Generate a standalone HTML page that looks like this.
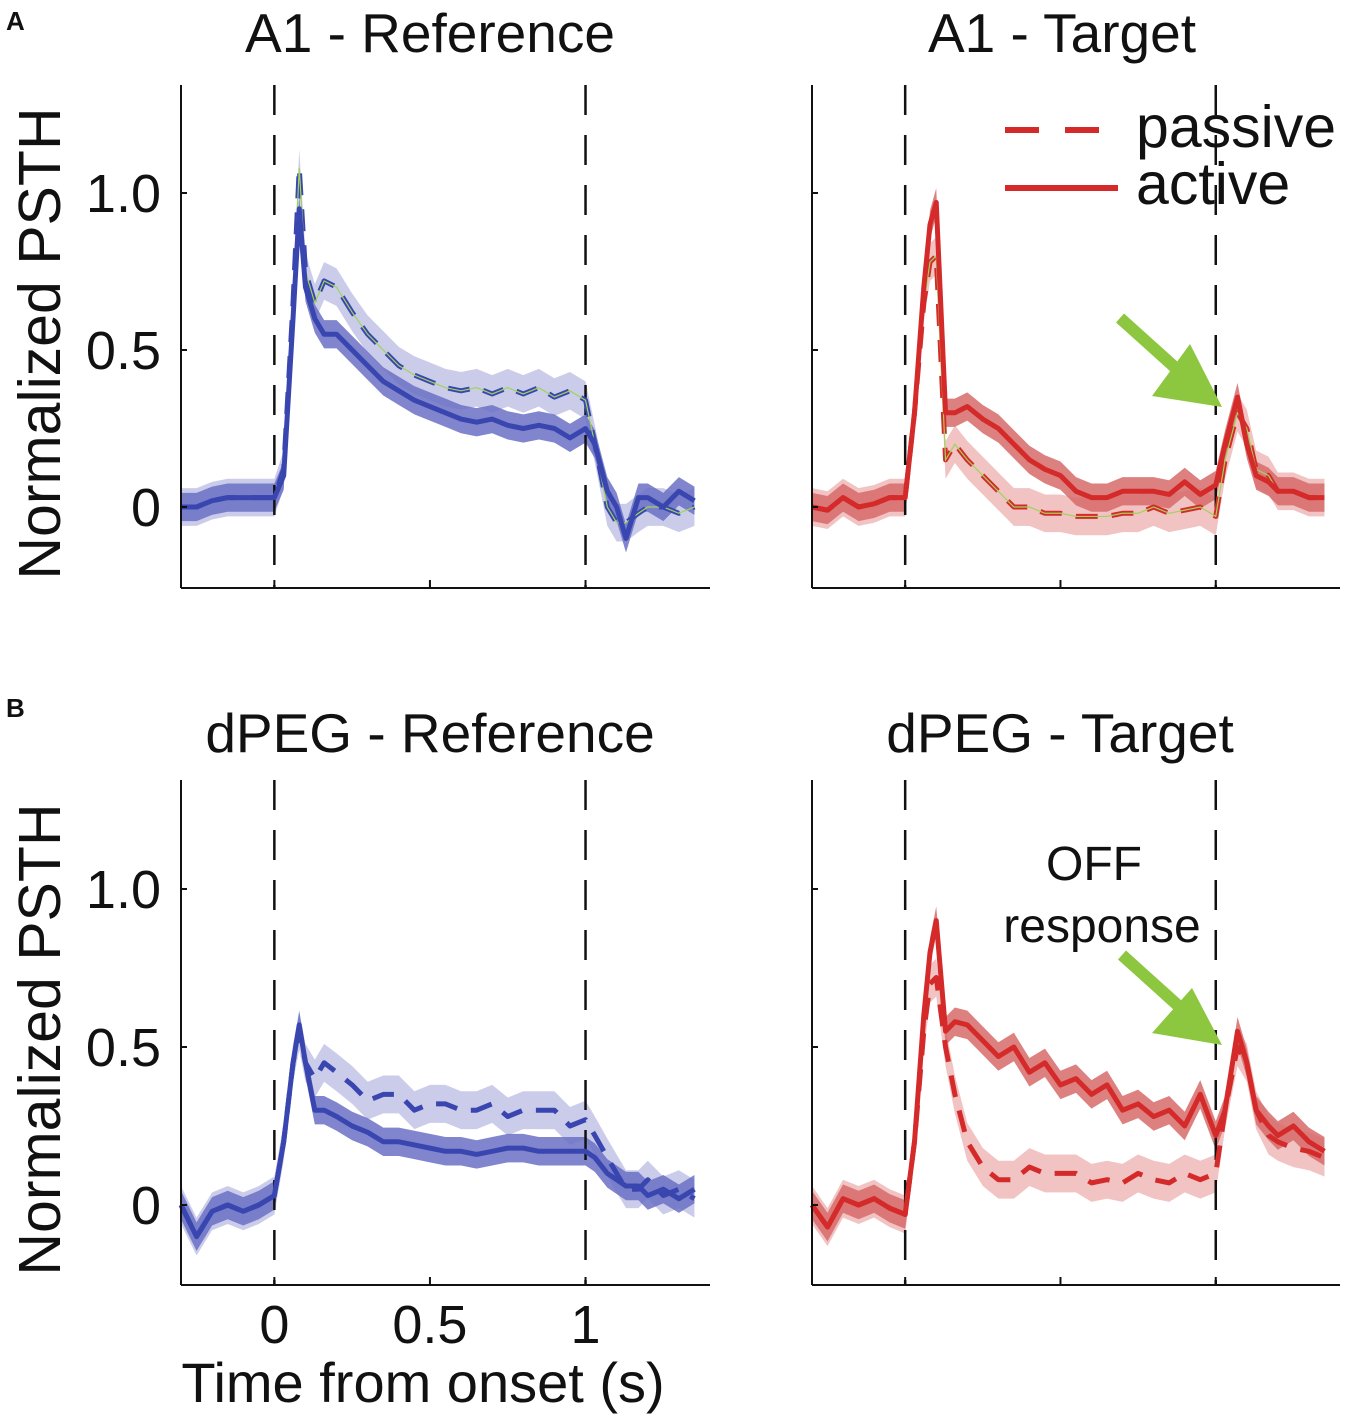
<!DOCTYPE html>
<html><head><meta charset="utf-8"><style>
body{margin:0;background:#fff;}
svg{display:block;font-family:"Liberation Sans",Arial,sans-serif;}
</style></head><body>
<svg id="fig" width="1350" height="1420" viewBox="0 0 1350 1420"></svg>
<script>
const T=[-0.3,-0.25,-0.2,-0.15,-0.1,-0.05,0,0.03,0.06,0.08,0.1,0.13,0.16,0.2,0.25,0.3,0.35,0.4,0.45,0.5,0.55,0.6,0.65,0.7,0.75,0.8,0.85,0.9,0.95,1.0,1.03,1.07,1.1,1.13,1.17,1.2,1.25,1.3,1.35];
const a1RefActive=[0,0,0.02,0.03,0.03,0.03,0.03,0.1,0.6,0.95,0.7,0.6,0.55,0.55,0.5,0.45,0.4,0.37,0.34,0.32,0.3,0.28,0.27,0.28,0.26,0.25,0.26,0.25,0.22,0.25,0.2,0.05,0.0,-0.1,0.03,0.03,0.0,0.05,0.02];
const a1RefPassive=[0,0,0.02,0.03,0.03,0.03,0.03,0.12,0.65,1.08,0.75,0.65,0.72,0.7,0.62,0.55,0.5,0.45,0.42,0.4,0.38,0.37,0.38,0.36,0.38,0.36,0.38,0.35,0.37,0.34,0.2,0.0,-0.05,-0.05,-0.02,0.0,0.0,-0.02,0.0];
const a1TgtActive=[0,-0.01,0.03,0.0,0.01,0.03,0.03,0.3,0.7,0.9,0.97,0.3,0.3,0.32,0.28,0.25,0.2,0.15,0.12,0.1,0.05,0.03,0.03,0.05,0.05,0.05,0.04,0.08,0.04,0.07,0.2,0.35,0.2,0.1,0.08,0.05,0.05,0.03,0.03];
const a1TgtPassive=[0,-0.01,0.03,0.0,0.01,0.03,0.03,0.3,0.65,0.78,0.8,0.15,0.2,0.15,0.1,0.05,0.0,0.0,-0.02,-0.02,-0.03,-0.03,-0.03,-0.02,-0.02,0.0,-0.02,-0.01,0.0,-0.03,0.15,0.3,0.25,0.12,0.1,0.05,0.05,0.03,0.03];
const dpRefActive=[0,-0.1,-0.02,0.0,-0.02,0.0,0.03,0.2,0.45,0.57,0.45,0.3,0.3,0.28,0.25,0.23,0.2,0.2,0.19,0.18,0.17,0.17,0.16,0.17,0.18,0.18,0.17,0.17,0.17,0.17,0.15,0.1,0.08,0.06,0.06,0.03,0.05,0.02,0.05];
const dpRefPassive=[0,-0.1,-0.02,0.0,-0.02,0.0,0.03,0.2,0.45,0.55,0.45,0.4,0.45,0.42,0.38,0.33,0.35,0.35,0.3,0.32,0.32,0.3,0.3,0.32,0.28,0.3,0.3,0.3,0.25,0.27,0.22,0.15,0.1,0.05,0.05,0.08,0.03,0.05,0.02];
const dpTgtActive=[0,-0.07,0.02,0.0,0.02,-0.01,-0.03,0.2,0.6,0.8,0.9,0.55,0.58,0.57,0.52,0.47,0.5,0.42,0.45,0.38,0.4,0.35,0.38,0.3,0.32,0.28,0.3,0.25,0.35,0.22,0.3,0.55,0.45,0.3,0.25,0.22,0.25,0.2,0.17];
const dpTgtPassive=[0,-0.07,0.02,0.0,0.02,-0.01,-0.03,0.2,0.55,0.7,0.72,0.5,0.35,0.2,0.12,0.08,0.08,0.12,0.1,0.1,0.1,0.07,0.08,0.07,0.1,0.08,0.07,0.1,0.08,0.1,0.3,0.5,0.45,0.3,0.22,0.2,0.18,0.17,0.15];
const yTicks=[0,0.5,1.0];
const yTickLabels=["0","0.5","1.0"];
const xTicks=[0,0.5,1];
const xTickLabels=["0","0.5","1"];

const NS="http://www.w3.org/2000/svg";
const svg=document.getElementById('fig');
function mk(tag,attrs,parent){const e=document.createElementNS(NS,tag);for(const k in attrs)e.setAttribute(k,attrs[k]);(parent||svg).appendChild(e);return e;}

const panels=[
 {name:'a1-reference',x0:181,x1:710,top:85,bot:588,y0:507,yHalf:157,title:'A1 - Reference',tx:430,ty:52,act:a1RefActive,pas:a1RefPassive,color:'#3a46b0',bandA:'#6a70c4',bandP:'#c5c7e8',labels:true,green:true,xlabels:false},
 {name:'a1-target',x0:812,x1:1340,top:85,bot:588,y0:507,yHalf:157,title:'A1 - Target',tx:1062,ty:52,act:a1TgtActive,pas:a1TgtPassive,color:'#d42a2a',bandA:'#d76a6a',bandP:'#efbcbc',labels:false,green:true,xlabels:false},
 {name:'dpeg-reference',x0:181,x1:710,top:780,bot:1285,y0:1205,yHalf:158,title:'dPEG - Reference',tx:430,ty:752,act:dpRefActive,pas:dpRefPassive,color:'#3a46b0',bandA:'#6a70c4',bandP:'#c5c7e8',labels:true,green:false,xlabels:true},
 {name:'dpeg-target',x0:812,x1:1340,top:780,bot:1285,y0:1205,yHalf:158,title:'dPEG - Target',tx:1060,ty:752,act:dpTgtActive,pas:dpTgtPassive,color:'#d42a2a',bandA:'#d76a6a',bandP:'#efbcbc',labels:false,green:false,xlabels:false}
];

panels.forEach(p=>{
 const g=mk('g',{});
 
 
 const zeroX=p.x0+0.3*(p.x1-p.x0)/1.7;
 const xs=t=>zeroX+t*(p.x1-p.x0)/1.7;
 const ys=v=>p.y0-v*p.yHalf*2;
 const tt=mk('text',{x:p.tx,y:p.ty,'text-anchor':'middle','font-size':55,fill:'#111'},g);
 tt.textContent=p.title;
 
 
 function band(vals,w,fill,op,nm){
  let up=T.map((t,i)=>xs(t)+','+ys(vals[i]+w)).join(' ');
  let dn=T.map((t,i)=>xs(t)+','+ys(vals[i]-w)).reverse().join(' ');
  const b=mk('polygon',{points:up+' '+dn,fill:fill,'fill-opacity':op},g);
  
  
 }
 band(p.pas,0.06,p.bandP,0.9,'passive-error-band');
 band(p.act,0.045,p.bandA,0.85,'active-error-band');
 [0,1].forEach(t=>{
  const l=mk('line',{x1:xs(t),x2:xs(t),y1:p.top,y2:p.bot,stroke:'#111','stroke-width':2.5,'stroke-dasharray':'30,20'},g);
  
  
 });
 const pts=vals=>T.map((t,i)=>xs(t)+','+ys(vals[i])).join(' ');
 const pl=mk('polyline',{points:pts(p.pas),fill:'none',stroke:p.color,'stroke-width':5,'stroke-dasharray':'22,14','stroke-linejoin':'round'},g);
 
 
 if(p.green){
  const gl=mk('polyline',{points:pts(p.pas),fill:'none',stroke:'#9fd45a','stroke-width':1.2},g);
  
  
 }
 const al=mk('polyline',{points:pts(p.act),fill:'none',stroke:p.color,'stroke-width':5,'stroke-linejoin':'round'},g);
 
 
 const ya=mk('line',{x1:p.x0,x2:p.x0,y1:p.top,y2:p.bot,stroke:'#111','stroke-width':2},g);
 
 
 const xa=mk('line',{x1:p.x0,x2:p.x1,y1:p.bot,y2:p.bot,stroke:'#111','stroke-width':2},g);
 
 
 yTicks.forEach((v,i)=>{
  const tk=mk('line',{x1:p.x0,x2:p.x0+6,y1:ys(v),y2:ys(v),stroke:'#111','stroke-width':2},g);
  
  
  if(p.labels){
   const tl=mk('text',{x:p.x0-20,y:ys(v)+19,'text-anchor':'end','font-size':54,fill:'#111'},g);
   tl.textContent=yTickLabels[i];
   
   
  }
 });
 xTicks.forEach((v,i)=>{
  const tk=mk('line',{x1:xs(v),x2:xs(v),y1:p.bot,y2:p.bot-8,stroke:'#111','stroke-width':2},g);
  
  
  if(p.xlabels){
   const tl=mk('text',{x:xs(v),y:p.bot+58,'text-anchor':'middle','font-size':54,fill:'#111'},g);
   tl.textContent=xTickLabels[i];
   
   
  }
 });
 if(p.labels){
  const cy=(p.top+p.bot)/2+7;
  const yl=mk('text',{x:0,y:0,transform:`translate(60,${cy}) rotate(-90)`,'text-anchor':'middle','font-size':59,fill:'#111'},g);
  yl.textContent='Normalized PSTH';
  
  
 }
});
</script>
<div style="position:absolute;left:0;top:0;width:1350px;height:1420px;pointer-events:none;">
<svg width="1350" height="1420" style="position:absolute;left:0;top:0" font-family="Liberation Sans, Arial, sans-serif">
 <text x="6" y="30" font-size="26" font-weight="bold" fill="#111">A</text>
 <text x="6" y="717" font-size="26" font-weight="bold" fill="#111">B</text>
 <text x="423" y="1402" text-anchor="middle" font-size="56" fill="#111">Time from onset (s)</text>
 <g>
  <line x1="1005" y1="130" x2="1115" y2="130" stroke="#d42a2a" stroke-width="6" stroke-dasharray="34,26"/>
  <text x="1136" y="147" font-size="59" fill="#111">passive</text>
  <line x1="1005" y1="188" x2="1118" y2="188" stroke="#d42a2a" stroke-width="6"/>
  <text x="1136" y="204" font-size="59" fill="#111">active</text>
 </g>
 <g>
  <line x1="1120" y1="318" x2="1180" y2="372" stroke="#8dc63f" stroke-width="12"/>
  <polygon points="1222,407 1152,396 1190,344" fill="#8dc63f"/>
 </g>
 <text x="1094" y="880" text-anchor="middle" font-size="48" fill="#111">OFF</text>
 <text x="1102" y="942" text-anchor="middle" font-size="48" fill="#111">response</text>
 <g>
  <line x1="1122" y1="955" x2="1183" y2="1010" stroke="#8dc63f" stroke-width="12"/>
  <polygon points="1222,1045 1152,1033 1192,988" fill="#8dc63f"/>
 </g>
</svg>
</div>
</body></html>
